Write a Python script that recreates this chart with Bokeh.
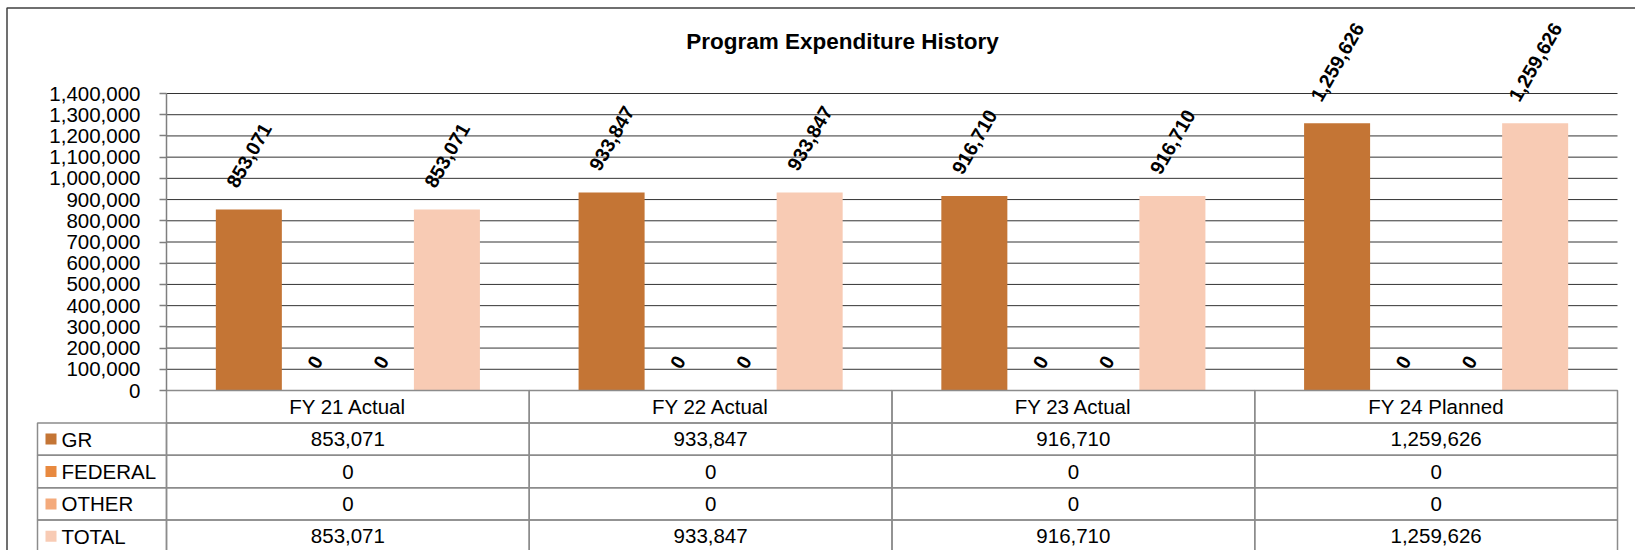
import math
from bokeh.plotting import figure
from bokeh.models import Range1d, FixedTicker, NumeralTickFormatter, ColumnDataSource
from bokeh.core.properties import value
from bokeh.embed import file_html
from bokeh.resources import INLINE

# ---------------- data ----------------
title_text = "Program Expenditure History"
categories = ["FY 21 Actual", "FY 22 Actual", "FY 23 Actual", "FY 24 Planned"]
series_names = ["GR", "FEDERAL", "OTHER", "TOTAL"]
gr = [853071, 933847, 916710, 1259626]
federal = [0, 0, 0, 0]
other = [0, 0, 0, 0]
total = [853071, 933847, 916710, 1259626]
y_ticks = [0, 100000, 200000, 300000, 400000, 500000, 600000, 700000,
           800000, 900000, 1000000, 1100000, 1200000, 1300000, 1400000]
series_colors = ["#C47535", "#E8893F", "#F4AA7B", "#F8CBB4"]

series_values = [gr, federal, other, total]

# ---------------- layout (page pixels) ----------------
W, H = 1635, 550
PAGE_L, PAGE_T = 0, 0
PAGE_R, PAGE_B = PAGE_L + W, PAGE_T + H
AXIS_PX = 166.0         # x of value axis / first category edge
CAT_PX = 362.75         # width of one category
ZERO_PX = 390.0         # y of value 0
TOP_PX = 93.0           # y of top tick
YMAX = y_ticks[-1]
UPP = YMAX / (ZERO_PX - TOP_PX)   # value units per pixel
ROW_H = 32.4
LEG_LEFT_PX = 37.0
BAR_W = 0.182

def fx(px):
    return (px - AXIS_PX) / CAT_PX

def fy(py):
    return (ZERO_PX - py) * UPP

def frow(py):
    return (py - ZERO_PX) / ROW_H

p = figure(width=W, height=H, output_backend="svg", toolbar_location=None,
           x_range=Range1d(fx(PAGE_L), fx(PAGE_R)),
           y_range=Range1d(fy(PAGE_B), fy(PAGE_T)),
           x_axis_location=None, min_border=0)
p.min_border_left = 0
p.min_border_right = 0
p.min_border_top = 0
p.min_border_bottom = 0
p.extra_y_ranges = {"table": Range1d(frow(PAGE_B), frow(PAGE_T))}
p.outline_line_color = None
p.grid.visible = False
p.background_fill_color = "white"
p.border_fill_color = "white"

FONT = "Liberation Sans"

# gridlines from tick values
grid_src = ColumnDataSource(dict(y=y_ticks[1:]))
p.segment(x0=0, x1=len(categories), y0="y", y1="y", source=grid_src,
          line_color="#333333", line_width=1)

# value axis
yax = p.yaxis[0]
yax.fixed_location = 0
yax.bounds = (0, YMAX)
yax.ticker = FixedTicker(ticks=y_ticks)
yax.formatter = NumeralTickFormatter(format="0,0")
yax.major_label_text_font = FONT
yax.major_label_text_font_size = "20.5px"
yax.major_label_text_color = "black"
yax.major_label_standoff = 19
yax.major_tick_out = 7
yax.major_tick_in = 0
yax.minor_tick_line_color = None
yax.axis_line_color = "#7f7f7f"
yax.axis_line_width = 1.5
yax.major_tick_line_color = "#7f7f7f"
yax.major_tick_line_width = 1.5

# bars and labels
LABEL_SIZE = 19.5

def label_offset(s, size=LABEL_SIZE, h=15.0):
    w = sum(0.278 * size if ch == "," else 0.556 * size for ch in s)
    box_h = w * math.sin(math.radians(60)) + h * math.cos(math.radians(60))
    return -(20 + box_h / 2)

n_series = len(series_names)
for si, (name, vals, col) in enumerate(zip(series_names, series_values, series_colors)):
    xs = [i + 0.5 + (si - (n_series - 1) / 2) * BAR_W for i in range(len(categories))]
    labels = [f"{v:,}" for v in vals]
    src = ColumnDataSource(dict(x=xs, top=vals, lab=labels,
                                yoff=[label_offset(l) for l in labels]))
    p.vbar(x="x", top="top", bottom=0, width=BAR_W, source=src,
           fill_color=col, line_color=None)
    p.text(x="x", y="top", text="lab", source=src, angle=math.radians(60),
           y_offset="yoff", text_align="center", text_baseline="middle",
           text_font=value(FONT), text_font_style="bold",
           text_font_size=f"{LABEL_SIZE}px", text_color="black")

# data table
TABLE_LINE = "#8c8c8c"
hdr = ColumnDataSource(dict(left=list(range(len(categories))),
                            right=[i + 1 for i in range(len(categories))],
                            x=[i + 0.5 for i in range(len(categories))],
                            cat=categories))
p.quad(left="left", right="right", top=0, bottom=1, source=hdr,
       fill_color=None, line_color=TABLE_LINE, line_width=1.5,
       y_range_name="table")
p.text(x="x", y=0.5, text="cat", source=hdr, y_range_name="table",
       text_align="center", text_baseline="middle", text_font=value(FONT),
       text_font_size="20.5px", text_color="black")

for ri, (name, vals, col) in enumerate(zip(series_names, series_values, series_colors)):
    r = ri + 1
    cells = ColumnDataSource(dict(left=[fx(LEG_LEFT_PX)] + list(range(len(categories))),
                                  right=[0] + [i + 1 for i in range(len(categories))]))
    p.quad(left="left", right="right", top=r, bottom=r + 1, source=cells,
           fill_color=None, line_color=TABLE_LINE, line_width=1.5,
           y_range_name="table")
    vsrc = ColumnDataSource(dict(x=[i + 0.5 for i in range(len(categories))],
                                 t=[f"{v:,}" for v in vals]))
    p.text(x="x", y=r + 0.5, text="t", source=vsrc, y_range_name="table",
           text_align="center", text_baseline="middle", text_font=value(FONT),
           text_font_size="20.5px", text_color="black")
    lsrc = ColumnDataSource(dict(xm=[fx(50.5)], xt=[fx(61)], y=[r + 0.5], t=[name]))
    p.scatter(x="xm", y="y", source=lsrc, marker="square", size=11,
              fill_color=col, line_color=None, y_range_name="table")
    p.text(x="xt", y="y", text="t", source=lsrc, y_range_name="table",
           text_align="left", text_baseline="middle", text_font=value(FONT),
           text_font_size="20.5px", text_color="black")

# title
p.text(x=[fx(842)], y=[fy(41)], text=[title_text], text_align="center",
       text_baseline="middle", text_font=value(FONT), text_font_style="bold",
       text_font_size="22.5px", text_color="black")

# outer chart border (left and top visible)
p.quad(left=[fx(6.5)], right=[fx(PAGE_R + 20)],
       top=[fy(7.5)], bottom=[fy(PAGE_B + 20)],
       fill_color=None, line_color="#404040", line_width=1.5)

open("out.html", "w").write(file_html(p, INLINE))
